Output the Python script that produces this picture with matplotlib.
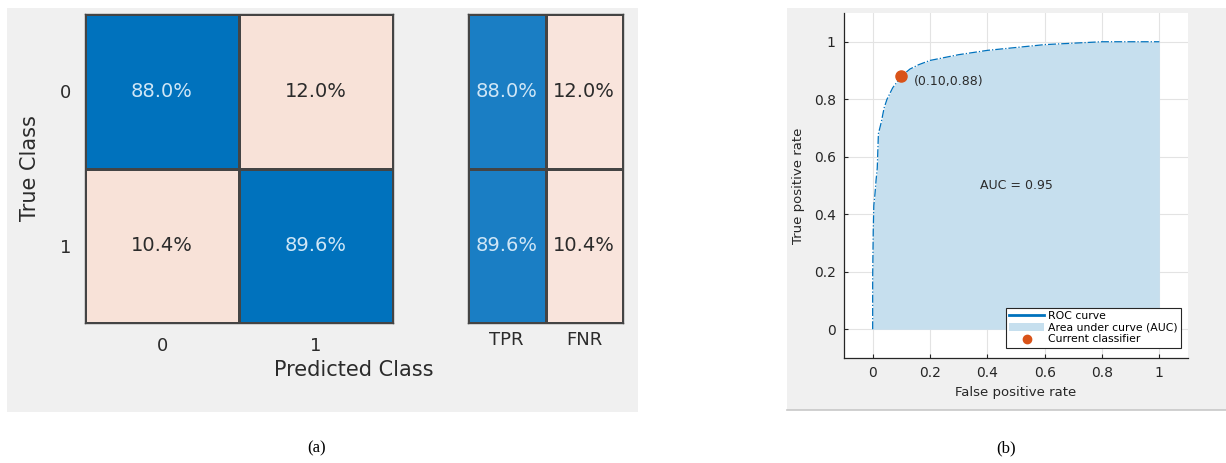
import matplotlib
matplotlib.use("Agg")
import matplotlib.pyplot as plt
import numpy as np
from matplotlib.colors import ListedColormap, BoundaryNorm
from matplotlib.patches import Rectangle
from matplotlib.lines import Line2D
from matplotlib.patches import Patch

# Confusion matrix (row-normalised, %)
classes = ["0", "1"]
conf_pct = np.array([[88.0, 12.0],
                     [10.4, 89.6]])
summary_labels = ["TPR", "FNR"]
summary_pct = np.array([[88.0, 12.0],
                        [89.6, 10.4]])

# ROC curve
fpr = [0, 0.0, 0.002, 0.004, 0.008, 0.012, 0.016, 0.02, 0.03, 0.04, 0.05, 0.07,
       0.10, 0.13, 0.16, 0.20, 0.25, 0.30, 0.40, 0.50, 0.60, 0.70, 0.80, 1.0]
tpr = [0, 0.18, 0.34, 0.43, 0.47, 0.52, 0.56, 0.68, 0.72, 0.77, 0.80, 0.84,
       0.88, 0.905, 0.92, 0.935, 0.945, 0.955, 0.97, 0.98, 0.99, 0.995, 1.0, 1.0]
auc = 0.95
op_point = (0.10, 0.88)

W, H = 1226, 463
fig = plt.figure(figsize=(W / 100, H / 100), dpi=100)
fig.patch.set_facecolor("white")


def px_axes(x0, y0, x1, y1):
    # pixel box (top-left origin) -> figure axes
    return fig.add_axes([x0 / W, 1 - y1 / H, (x1 - x0) / W, (y1 - y0) / H])


def px_rect(x0, y0, x1, y1, **kw):
    fig.patches.append(Rectangle((x0 / W, 1 - y1 / H), (x1 - x0) / W, (y1 - y0) / H,
                                 transform=fig.transFigure, zorder=-10, **kw))


# grey window backgrounds
px_rect(7, 8, 638, 412, facecolor="#f0f0f0", edgecolor="none")
px_rect(787, 8, 1226, 410, facecolor="#f0f0f0", edgecolor="none")
fig.add_artist(Line2D([787 / W, 1], [1 - 410 / H, 1 - 410 / H], transform=fig.transFigure,
                      color="#c8c8c8", lw=1.2))

edge = "#444444"
txt_dark = "#2b2b2b"
txt_light = "#cfe6f6"


def heat(ax, vals, blue, pink):
    cmap = ListedColormap([pink, blue])
    norm = BoundaryNorm([0, 50, 100], 2)
    ax.pcolormesh(vals, cmap=cmap, norm=norm, edgecolors=edge, linewidth=0.8)
    ax.set_xlim(0, vals.shape[1])
    ax.set_ylim(vals.shape[0], 0)
    for (i, j), v in np.ndenumerate(vals):
        ax.text(j + 0.5, i + 0.5, f"{v:.1f}%", ha="center", va="center", fontsize=14,
                color=txt_light if v > 50 else txt_dark)
    for s in ax.spines.values():
        s.set_color(edge)
        s.set_linewidth(1.0)
    ax.tick_params(length=0, labelsize=13, colors=txt_dark)


# (a) confusion matrix
ax1 = px_axes(85, 14, 393, 323)
heat(ax1, conf_pct, "#0072bd", "#f8e2d8")
ax1.set_xticks([0.5, 1.5], classes)
ax1.set_yticks([0.5, 1.5], classes)
ax1.tick_params(axis="x", pad=10)
ax1.tick_params(axis="y", pad=10)
ax1.set_ylabel("True Class", fontsize=15, color=txt_dark, labelpad=14)

ax2 = px_axes(468, 14, 623, 323)
heat(ax2, summary_pct, "#1a7ec4", "#f9e4dc")
ax2.set_xticks([0.5, 1.5], summary_labels)
ax2.set_yticks([])
ax2.tick_params(axis="x", pad=6)

fig.text(354 / W, 1 - 370 / H, "Predicted Class", ha="center", va="center",
         fontsize=15, color=txt_dark)

# (b) ROC curve
ax3 = px_axes(844, 13, 1188, 358)
ax3.set_facecolor("white")
ax3.fill_between(fpr, tpr, color="#c6dfee", lw=0, zorder=2)
ax3.plot(fpr, tpr, color="#0072bd", lw=0.9, ls="-.", zorder=3)
ax3.plot(*op_point, "o", color="#d95319", ms=8, zorder=4)
ax3.text(op_point[0] + 0.045, op_point[1] - 0.02, f"({op_point[0]:.2f},{op_point[1]:.2f})",
         fontsize=9, color=txt_dark, va="center", zorder=5)
ax3.text(0.5, 0.5, f"AUC = {auc:.2f}", fontsize=9, color=txt_dark, ha="center",
         va="center", zorder=5)
ax3.set_xlim(-0.1, 1.1)
ax3.set_ylim(-0.1, 1.1)
ticks = [0, 0.2, 0.4, 0.6, 0.8, 1]
tick_txt = ["0", "0.2", "0.4", "0.6", "0.8", "1"]
ax3.set_xticks(ticks, tick_txt)
ax3.set_yticks(ticks, tick_txt)
ax3.grid(True, color="#e3e3e3", lw=0.8, zorder=0)
ax3.set_axisbelow(True)
ax3.spines["top"].set_visible(False)
ax3.spines["right"].set_visible(False)
for s in ("left", "bottom"):
    ax3.spines[s].set_color("#262626")
    ax3.spines[s].set_linewidth(0.9)
ax3.tick_params(direction="in", length=3, labelsize=10, colors="#262626", pad=6)
ax3.set_xlabel("False positive rate", fontsize=9.5, color="#262626", labelpad=4)
ax3.set_ylabel("True positive rate", fontsize=9.5, color="#262626", labelpad=6)

handles = [Line2D([], [], color="#0072bd", lw=2),
           Patch(facecolor="#c6dfee", edgecolor="none"),
           Line2D([], [], color="#d95319", marker="o", ls="none", ms=6)]
leg = ax3.legend(handles, ["ROC curve", "Area under curve (AUC)", "Current classifier"],
                 loc="lower right", bbox_to_anchor=(0.98, 0.03), fontsize=7.8,
                 fancybox=False, framealpha=1, edgecolor="#262626", borderpad=0.3,
                 labelspacing=0.15, handlelength=3.2, handletextpad=0.4, borderaxespad=0)
leg.get_frame().set_linewidth(0.8)
leg.set_zorder(6)

# captions
fig.text(317 / W, 1 - 448 / H, "(a)", ha="center", va="center", fontsize=12,
         family="Liberation Serif")
fig.text(1006 / W, 1 - 448 / H, "(b)", ha="center", va="center", fontsize=12,
         family="Liberation Serif")

fig.savefig("out.png", dpi=100)
